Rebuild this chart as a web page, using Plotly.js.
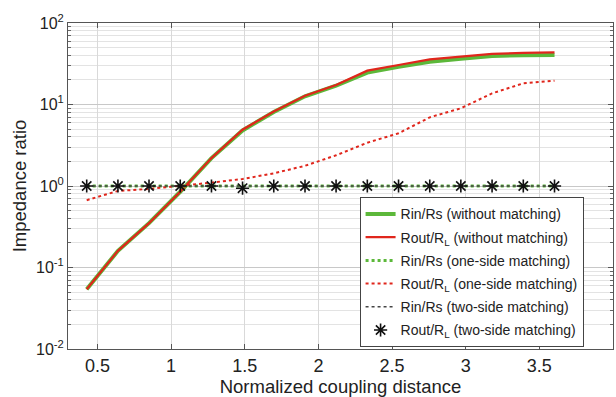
<!DOCTYPE html>
<html><head><meta charset="utf-8">
<script src="https://cdn.plot.ly/plotly-3.0.1.min.js"></script>
<style>html,body{margin:0;padding:0;background:#fff}#c{width:616px;height:397px}</style>
</head><body><div id="c"></div>
<script>
var distance = [0.427,0.639,0.850,1.062,1.274,1.485,1.697,1.909,2.120,2.332,2.544,2.756,2.967,3.179,3.391,3.603];
var rinNoMatch  = [0.054,0.16,0.35,0.85,2.2,4.8,8.1,12.6,17.0,24.6,29.0,33.5,36.5,39.4,40.3,40.5];
var routNoMatch = [0.054,0.16,0.35,0.85,2.2,4.9,8.2,12.8,17.3,26.0,30.5,35.8,38.6,41.7,43.0,43.7];
var rinOneSide  = [1,1,1,1,1,1,1,1,1,1,1,1,1,1,1,1];
var routOneSide = [0.67,0.87,0.92,1.0,1.1,1.22,1.43,1.77,2.38,3.4,4.43,6.96,8.98,13.7,18.2,19.6];
var rinTwoSide  = [1,1,1,1,1,1,1,1,1,1,1,1,1,1,1,1];
var routTwoSide = [1,1,1,1,1,0.94,1,1,1,1,1,1,1,1,1,1];
var seriesNames = ['Rin/Rs (without matching)','Rout/R<sub>L</sub> (without matching)','Rin/Rs (one-side matching)','Rout/R<sub>L</sub> (one-side matching)','Rin/Rs (two-side matching)','Rout/R<sub>L</sub> (two-side matching)'];
var yTickVals = [0.01,0.1,1,10,100];
var yTickText = ['10<sup>-2</sup>','10<sup>-1</sup>','10<sup>0</sup>','10<sup>1</sup>','10<sup>2</sup>'];

var traces = [
 {x:distance,y:rinNoMatch,name:seriesNames[0],legendgroup:'g1',mode:'lines',line:{color:'#5cb83a',width:4}},
 {x:distance,y:routNoMatch,name:seriesNames[1],legendgroup:'g2',mode:'lines',line:{color:'#e0261c',width:2.2}},
 {x:distance,y:rinOneSide,name:seriesNames[2],legendgroup:'g3',mode:'lines',line:{color:'#5cb83a',width:3,dash:'dot'}},
 {x:distance,y:routOneSide,name:seriesNames[3],legendgroup:'g4',mode:'lines',line:{color:'#e0261c',width:2,dash:'dot'}},
 {x:distance,y:rinTwoSide,name:seriesNames[4],legendgroup:'g5',mode:'lines',line:{color:'#444',width:1.5,dash:'dot'}},
 {x:distance,y:routTwoSide,name:seriesNames[5],legendgroup:'g6',mode:'markers',marker:{symbol:'asterisk-open',size:11,color:'#111',line:{color:'#111',width:1.6}}}
];
var font = {family:'Liberation Sans, Arial, sans-serif',color:'#222'};
var layout = {
 width:616,height:397,
 margin:{l:68,r:3,t:23,b:48},
 paper_bgcolor:'#fff',plot_bgcolor:'#fff',
 font:font,
 showlegend:true,
 xaxis:{range:[0.3,4],dtick:0.5,tick0:0,showgrid:true,gridcolor:'#d9d9d9',gridwidth:1,
   showline:true,linecolor:'#555',linewidth:1,mirror:'ticks',ticks:'inside',ticklen:5,tickcolor:'#555',
   zeroline:false,tickfont:{size:18,color:'#222'},
   title:{text:'Normalized coupling distance',font:{size:18.5,color:'#222'},standoff:0}},
 yaxis:{type:'log',range:[-2,2],tickmode:'array',tickvals:yTickVals,ticktext:yTickText,showgrid:true,gridcolor:'#c8c8c8',gridwidth:1,
   showline:true,linecolor:'#555',linewidth:1,mirror:'ticks',ticks:'inside',ticklen:5,tickcolor:'#555',
   zeroline:false,tickfont:{size:16,color:'#222'},
   minor:{dtick:'D1',showgrid:true,gridcolor:'#e3e3e3',ticks:'inside',ticklen:3,tickcolor:'#666'},
   title:{text:'Impedance ratio',font:{size:18.5,color:'#222'},standoff:4}},
 legend:{x:0.535,y:0.465,xanchor:'left',yanchor:'top',bgcolor:'#fff',bordercolor:'#444',borderwidth:1,
   font:{size:14,color:'#222'},tracegroupgap:2}
};
Plotly.newPlot('c',traces,layout,{displayModeBar:false,staticPlot:true});
</script></body></html>
